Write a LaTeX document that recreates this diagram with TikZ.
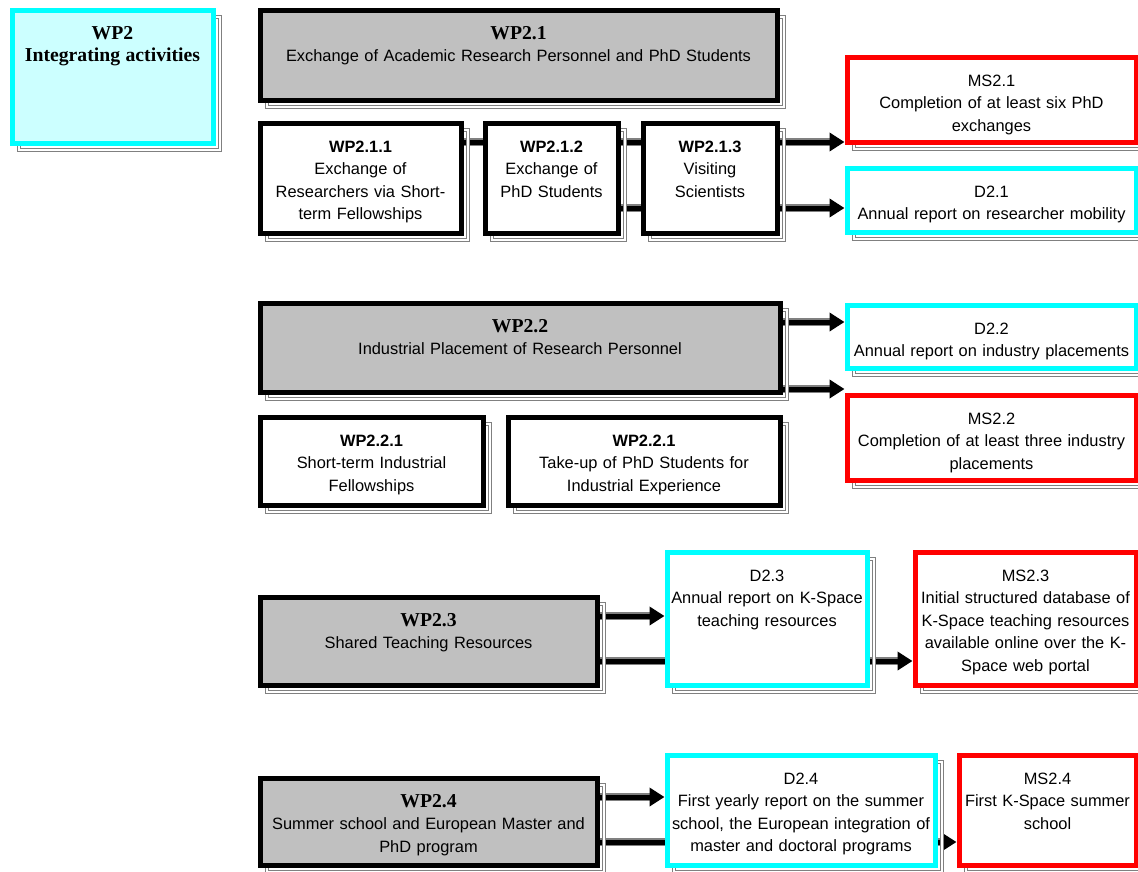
\documentclass[tikz,border=0pt]{standalone}
\usepackage{fontspec}
\setmainfont{Liberation Sans}
\newfontfamily\headfont{Liberation Serif}
\usetikzlibrary{arrows.meta,backgrounds}
\definecolor{aqua}{RGB}{0,255,255}
\definecolor{paleaqua}{RGB}{204,255,255}
\definecolor{boxgray}{RGB}{192,192,192}
\newcommand{\hd}[1]{{\headfont\bfseries\fontsize{19.7}{22.5}\selectfont #1}}
\newcommand{\harw}{-{Triangle[length=15pt,width=18pt]}}

\begin{document}
\begin{tikzpicture}[x=1pt,y=-1pt,
  box/.style={rectangle, anchor=north west, line width=5pt, draw=black, fill=white,
    inner sep=0pt, align=center, text height=29pt,
    font=\fontsize{16.4}{22.5}\selectfont,
    preaction={draw=gray, double=white, double distance=1.3pt, line width=1.3pt,
      transform canvas={shift={(7pt,-7pt)}}}},
  wp/.style={box, fill=boxgray},
  del/.style={box, draw=aqua},
  ms/.style={box, draw=red},
  wire/.style={line width=5pt,
    preaction={draw=gray, line width=7.5pt, arrows=-, shorten >=11pt}}]
\useasboundingbox (0,0) rectangle (1138,871);
% work package
\node[box, draw=aqua, fill=paleaqua, text width=201pt, text depth=104pt] (wp2) at (9.5,7.5)
  {\hd{WP2}\\\hd{Integrating activities}};
% WP2.1
\node[wp, text width=517pt, text depth=61pt] (wp21) at (257.5,7.5)
  {\hd{WP2.1}\\Exchange of Academic Research Personnel and PhD Students};
\node[box, text width=201pt, text depth=81pt] (wp211) at (257.5,120.5)
  {\textbf{WP2.1.1}\\Exchange of\\Researchers via Short-\\term Fellowships};
\node[box, text width=133pt, text depth=81pt] (wp212) at (482.5,120.5)
  {\textbf{WP2.1.2}\\Exchange of\\PhD Students};
\node[box, text width=134pt, text depth=81pt] (wp213) at (640.5,120.5)
  {\textbf{WP2.1.3}\\Visiting\\Scientists};
\node[ms, text width=289pt, text depth=56pt] (ms21) at (844.5,54.5)
  {MS2.1\\Completion of at least six PhD\\exchanges};
\node[del, text width=289pt, text depth=35pt] (d21) at (844.5,165.5)
  {D2.1\\Annual report on researcher mobility};
% WP2.2
\node[wp, text width=520pt, text depth=60pt] (wp22) at (257.5,300.5)
  {\hd{WP2.2}\\Industrial Placement of Research Personnel};
\node[box, text width=223pt, text depth=59pt] (wp221) at (257.5,414.5)
  {\textbf{WP2.2.1}\\Short-term Industrial\\Fellowships};
\node[box, text width=272pt, text depth=59pt] (wp222) at (505.5,414.5)
  {\textbf{WP2.2.1}\\Take-up of PhD Students for\\Industrial Experience};
\node[del, text width=289pt, text depth=34pt] (d22) at (844.5,302.5)
  {D2.2\\Annual report on industry placements};
\node[ms, text width=289pt, text depth=56pt] (ms22) at (844.5,392.5)
  {MS2.2\\Completion of at least three industry\\placements};
% WP2.3
\node[wp, text width=337pt, text depth=59pt] (wp23) at (257.5,594.5)
  {\hd{WP2.3}\\Shared Teaching Resources};
\node[del, text width=200pt, text depth=104pt] (d23) at (664.5,549.5)
  {D2.3\\Annual report on K-Space\\teaching resources};
\node[ms, text width=221pt, text depth=104pt] (ms23) at (912.5,549.5)
  {MS2.3\\Initial structured database of\\K-Space teaching resources\\available online over the K-\\Space web portal};
% WP2.4
\node[wp, text width=337pt, text depth=58pt] (wp24) at (257.5,775.5)
  {\hd{WP2.4}\\Summer school and European Master and\\PhD program};
\node[del, text width=268pt, text depth=81pt] (d24) at (664.5,752.5)
  {D2.4\\First yearly report on the summer\\school, the European integration of\\master and doctoral programs};
\node[ms, text width=177pt, text depth=81pt] (ms24) at (956.5,752.5)
  {MS2.4\\First K-Space summer\\school};
% connectors behind the boxes
\begin{scope}[on background layer]
\path ([yshift=-21.5pt]wp211.north east) coordinate (r1a)
      ([yshift=-87.5pt]wp212.north east) coordinate (r1b)
      ([yshift=-21.5pt]wp22.north east) coordinate (r2a)
      ([yshift=-88.5pt]wp22.north east) coordinate (r2b)
      ([yshift=-21.5pt]wp23.north east) coordinate (r3a)
      ([yshift=-66.5pt]wp23.north east) coordinate (r3b)
      ([yshift=-21.5pt]wp24.north east) coordinate (r4a)
      ([yshift=-66.5pt]wp24.north east) coordinate (r4b);
\draw[wire,\harw] (r1a) -- (r1a -| ms21.west);
\draw[wire,\harw] (r1b) -- (r1b -| d21.west);
\draw[wire,\harw] (r2a) -- (r2a -| d22.west);
\draw[wire,\harw] (r2b) -- (r2b -| ms22.west);
\draw[wire,\harw] (r3a) -- (r3a -| d23.west);
\draw[wire,\harw] (r3b) -- (r3b -| ms23.west);
\draw[wire,\harw] (r4a) -- (r4a -| d24.west);
\draw[wire,\harw] (r4b) -- (r4b -| ms24.west);
\end{scope}
\end{tikzpicture}
\end{document}
